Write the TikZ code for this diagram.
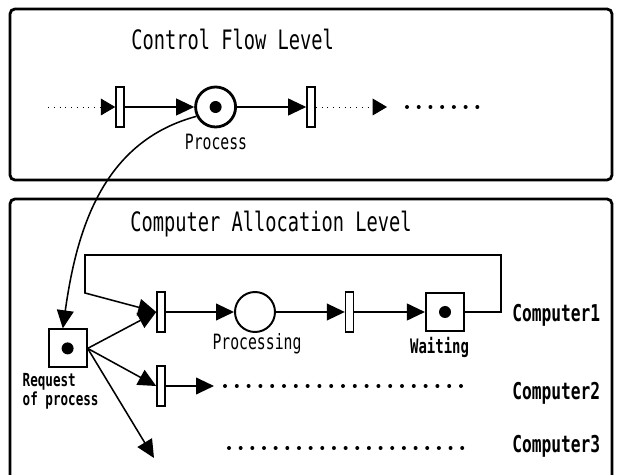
\documentclass[tikz,border=0pt]{standalone}
\usepackage{fontspec}
\newfontfamily\netfont[FakeStretch=0.7]{DejaVu Sans Mono}
\usetikzlibrary{arrows.meta}

\tikzset{
  trans/.style={draw, fill=white, line width=1.1pt, minimum width=0.2cm, minimum height=1cm, inner sep=0pt},
  place/.style={circle, draw, line width=1.4pt, minimum size=1cm, inner sep=0pt},
  sqplace/.style={draw, line width=1.5pt, minimum size=0.95cm, inner sep=0pt},
  arc/.style={line width=1.1pt, -{Triangle[length=0.45cm, width=0.42cm]}},
  faint/.style={line width=0.6pt, dash pattern=on 0.6pt off 3.5pt, -{Triangle[length=0.36cm, width=0.42cm]}},
  levelbox/.style={line width=2pt, rounded corners=3.5pt},
  title/.style={font=\netfont\fontsize{19}{22}\selectfont, anchor=base west, inner sep=0pt},
  lbl/.style={font=\netfont\fontsize{15}{18}\selectfont, anchor=base, inner sep=0pt},
  cpu/.style={font=\netfont\bfseries\fontsize{16.5}{20}\selectfont, anchor=base west, inner sep=0pt},
}

\begin{document}
\begin{tikzpicture}
  \useasboundingbox (0,0) rectangle (15.5,-11.875);

  \draw[levelbox] (0.25,-0.225) rectangle (15.3,-4.5);
  \draw[levelbox] (0.25,-12.2) -- (0.25,-4.975) -- (15.3,-4.975) -- (15.3,-12.2);

  \node[title] (cflevel) at (3.275,-1.25) {Control Flow Level};
  \node[title] (calevel) at (3.25,-5.8) {Computer Allocation Level};

  % control flow level
  \coordinate (cfin) at (1.2,-2.675);
  \node[trans] (t0) at (3.0,-2.675) {};
  \node[place, line width=2pt] (proc) at (5.39,-2.675) {};
  \fill (proc.center) circle (0.15);
  \node[trans] (t1) at (7.775,-2.675) {};
  \coordinate (cfout) at (9.675,-2.675);
  \node[lbl] (proclbl) at (5.4,-3.75) {Process};

  \draw[faint] (cfin) -- (t0);
  \draw[arc] (t0) -- (proc);
  \draw[arc] (proc) -- (t1);
  \draw[faint] (t1) -- (cfout);
  \foreach \i in {0,...,6}
    \fill (10.175+0.293*\i,-2.675) circle (0.05);

  % computer allocation level
  \node[sqplace] (req) at (1.69,-8.71) {};
  \fill (req.center) circle (0.15);
  \node[font=\netfont\bfseries\fontsize{12.8}{11.6}\selectfont, align=left, anchor=north west, inner sep=0pt]
    (reqlbl) at (0.56,-9.33) {Request\\of process};

  \draw[arc] (proc.206) to[out=195, in=82] ([xshift=-0.12cm]req.north);

  \node[trans] (c1t) at (4.025,-7.8) {};
  \node[place] (busy) at (6.375,-7.8) {};
  \node[trans] (c1u) at (8.74,-7.8) {};
  \node[sqplace] (wait) at (11.125,-7.8) {};
  \fill (wait.center) circle (0.15);
  \node[lbl] (busylbl) at (6.425,-8.75) {Processing};
  \node[lbl, font=\netfont\bfseries\fontsize{14.2}{17}\selectfont] (waitlbl) at (10.99,-8.85) {Waiting};

  \draw[arc] (c1t) -- (busy);
  \draw[arc] (busy) -- (c1u);
  \draw[arc] (c1u) -- (wait);

  \coordinate (back1) at (12.525,-7.8);
  \coordinate (back2) at (12.525,-6.375);
  \coordinate (back3) at (2.125,-6.375);
  \coordinate (back4) at (2.125,-7.325);
  \draw[arc] (wait.east) -- (back1) -- (back2) -- (back3) -- (back4) -- (c1t.west);
  \draw[arc] (req.east) -- (c1t.west);

  \node[trans] (c2t) at (4.025,-9.65) {};
  \coordinate (c2out) at (5.35,-9.65);
  \draw[arc] (req.east) -- (c2t.west);
  \draw[arc] (c2t) -- (c2out);
  \foreach \i in {0,...,20}
    \fill (5.625+0.295*\i,-9.65) circle (0.05);

  \coordinate (c3in) at (3.85,-11.45);
  \draw[arc] (req.east) -- (c3in);
  \foreach \i in {0,...,20}
    \fill (5.725+0.2915*\i,-11.2) circle (0.05);

  \node[cpu] (cpu1) at (12.8,-8.05) {Computer1};
  \node[cpu] (cpu2) at (12.8,-10.0) {Computer2};
  \node[cpu] (cpu3) at (12.8,-11.32) {Computer3};
\end{tikzpicture}
\end{document}
